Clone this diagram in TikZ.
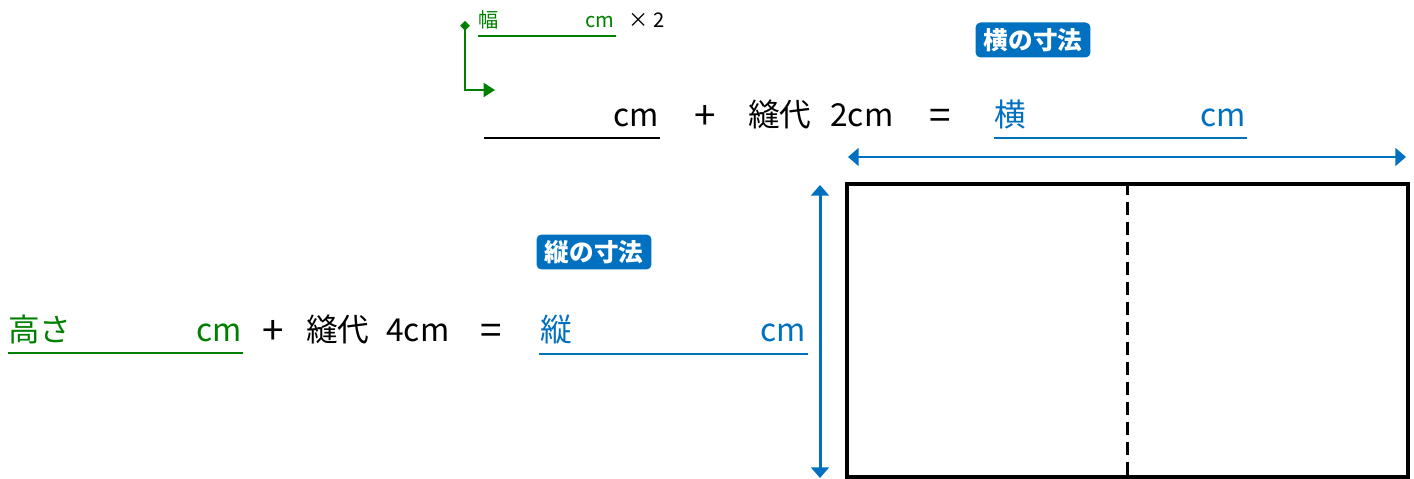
\documentclass[tikz,border=0pt]{standalone}
\usepackage{fontspec}
\setmainfont{Noto Sans CJK JP}
\usetikzlibrary{arrows.meta}
\definecolor{dimblue}{HTML}{0070C0}
\definecolor{calcgreen}{HTML}{008000}
\begin{document}
\begin{tikzpicture}[x=0.02cm, y=-0.02cm,
    every node/.style={inner sep=0pt, font=\fontsize{18}{20}\selectfont},
    lbl/.style={anchor=base west}, lblr/.style={anchor=base east},
    sym/.style={anchor=base, font=\fontsize{22}{24}\selectfont},
    small/.style={font=\fontsize{11.5}{13}\selectfont},
    badge/.style={fill=dimblue, text=white, rounded corners=0.1cm,
      minimum width=2.3cm, minimum height=0.7cm, font=\fontsize{14}{16}\selectfont\bfseries},
    dim/.style={draw=dimblue, line width=1.7pt, {Triangle[length=6pt,width=10pt]}-{Triangle[length=6pt,width=10pt]}}]
  \useasboundingbox (0,0) rectangle (1414,479);

  % width: fold-over calculation
  \node[lbl, small, text=calcgreen] (W1) at (478,28) {幅};
  \node[lblr, small, text=calcgreen] (W2) at (615,28) {cm};
  \node[lbl, small] (W3) at (628,28) {× 2};
  \draw[calcgreen, line width=1pt] (478,36) -- (616,36);
  \coordinate (A1) at (465,21);
  \coordinate (A2) at (495,90);
  \draw[calcgreen, line width=1.1pt, {Turned Square[length=5.5pt,width=5.5pt]}-{Triangle[length=6.5pt,width=8pt]}] (A1) |- (A2);

  \node[lblr] (H1) at (659,127) {cm};
  \draw[line width=1.3pt] (484,138) -- (660,138);
  \node[sym] (H2) at (705,130) {+};
  \node[lbl] (H3) at (748,127) {縫代};
  \node[lbl] (H4) at (830,127) {2cm};
  \node[sym] (H5) at (940,130) {=};
  \node[lbl, text=dimblue] (H6) at (994,127) {横};
  \node[lblr, text=dimblue] (H7) at (1246,127) {cm};
  \draw[dimblue, line width=1.3pt] (994,138) -- (1247,138);
  \node[badge] (B1) at (1033,40) {横の寸法};

  % height calculation
  \node[lbl, text=calcgreen] (V1) at (8,342) {高さ};
  \node[lblr, text=calcgreen] (V2) at (242,342) {cm};
  \draw[calcgreen, line width=1.3pt] (8,353) -- (243,353);
  \node[sym] (V3) at (273,345) {+};
  \node[lbl] (V4) at (306,342) {縫代};
  \node[lbl] (V5) at (386,342) {4cm};
  \node[sym] (V6) at (491,345) {=};
  \node[lbl, text=dimblue] (V7) at (540,342) {縦};
  \node[lblr, text=dimblue] (V8) at (806,342) {cm};
  \draw[dimblue, line width=1.3pt] (539,354) -- (808,354);
  \node[badge] (B2) at (594,252) {縦の寸法};

  % paper
  \node[draw, line width=2.3pt, minimum width=11.22cm, minimum height=5.86cm] (P) at (1127.5,330.5) {};
  \draw[line width=1.2pt, dash pattern=on 0.26cm off 0.14cm] (P.north) -- (P.south);
  \coordinate (D1) at (848,157);
  \coordinate (D2) at (1406,157);
  \draw[dim] (D1) -- (D2);
  \coordinate (D3) at (820,185);
  \coordinate (D4) at (820,478);
  \draw[dim] (D3) -- (D4);
\end{tikzpicture}
\end{document}
